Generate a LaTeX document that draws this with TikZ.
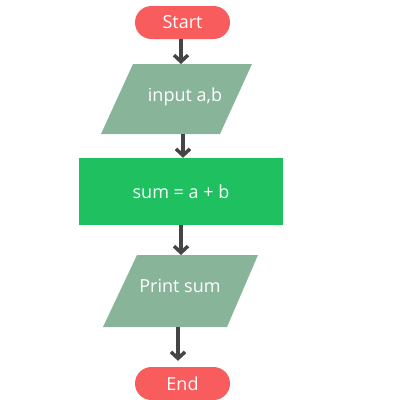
\documentclass[tikz,border=0pt]{standalone}
\usepackage{fontspec}
\setmainfont{Open Sans}
\usetikzlibrary{arrows.meta}
\definecolor{termred}{HTML}{F85C5C}
\definecolor{iogreen}{HTML}{88B49A}
\definecolor{procgreen}{HTML}{1FC060}
\definecolor{arrowgray}{HTML}{454545}
\tikzset{
  txt/.style={text=white,font=\fontsize{18}{21}\selectfont},
  term/.style={fill=termred,draw=none,rounded corners=16.5pt,minimum width=95pt,minimum height=33pt,inner sep=0pt,txt},
  iofill/.style={fill=iogreen,draw=none},
  procbox/.style={rectangle,fill=procgreen,draw=none,minimum width=204pt,minimum height=67pt,inner sep=0pt,txt},
  flow/.style={draw=arrowgray,line width=4pt,-{Straight Barb[length=6.5pt,width=14pt,line width=3.5pt]}}
}
\begin{document}
\begin{tikzpicture}[x=1pt,y=-1pt]
\useasboundingbox (0,0) rectangle (400,400);
\node[term] (start) at (182.5,22.5) {Start};
\fill[iofill] (133,64) -- (252,64) -- (220,134) -- (101,134) -- cycle;
\coordinate (intop) at (181,64);
\coordinate (inbot) at (183,134);
\node[txt] (intxt) at (185,97) {input a,b};
\node[procbox] (sum) at (181,191.5) {sum = a + b};
\fill[iofill] (137,255) -- (258,255) -- (227,327) -- (103,327) -- cycle;
\coordinate (outtop) at (181,255);
\coordinate (outbot) at (178,327);
\node[txt] (outtxt) at (180,286) {Print sum};
\node[term] (end) at (182.5,383.5) {End};
\draw[flow] (start.south -| intop) -- (intop);
\draw[flow] (inbot) -- (inbot |- sum.north);
\draw[flow] (sum.south -| outtop) -- (outtop);
\draw[flow,shorten >=6pt] (outbot) -- (outbot |- end.north);
\end{tikzpicture}
\end{document}
